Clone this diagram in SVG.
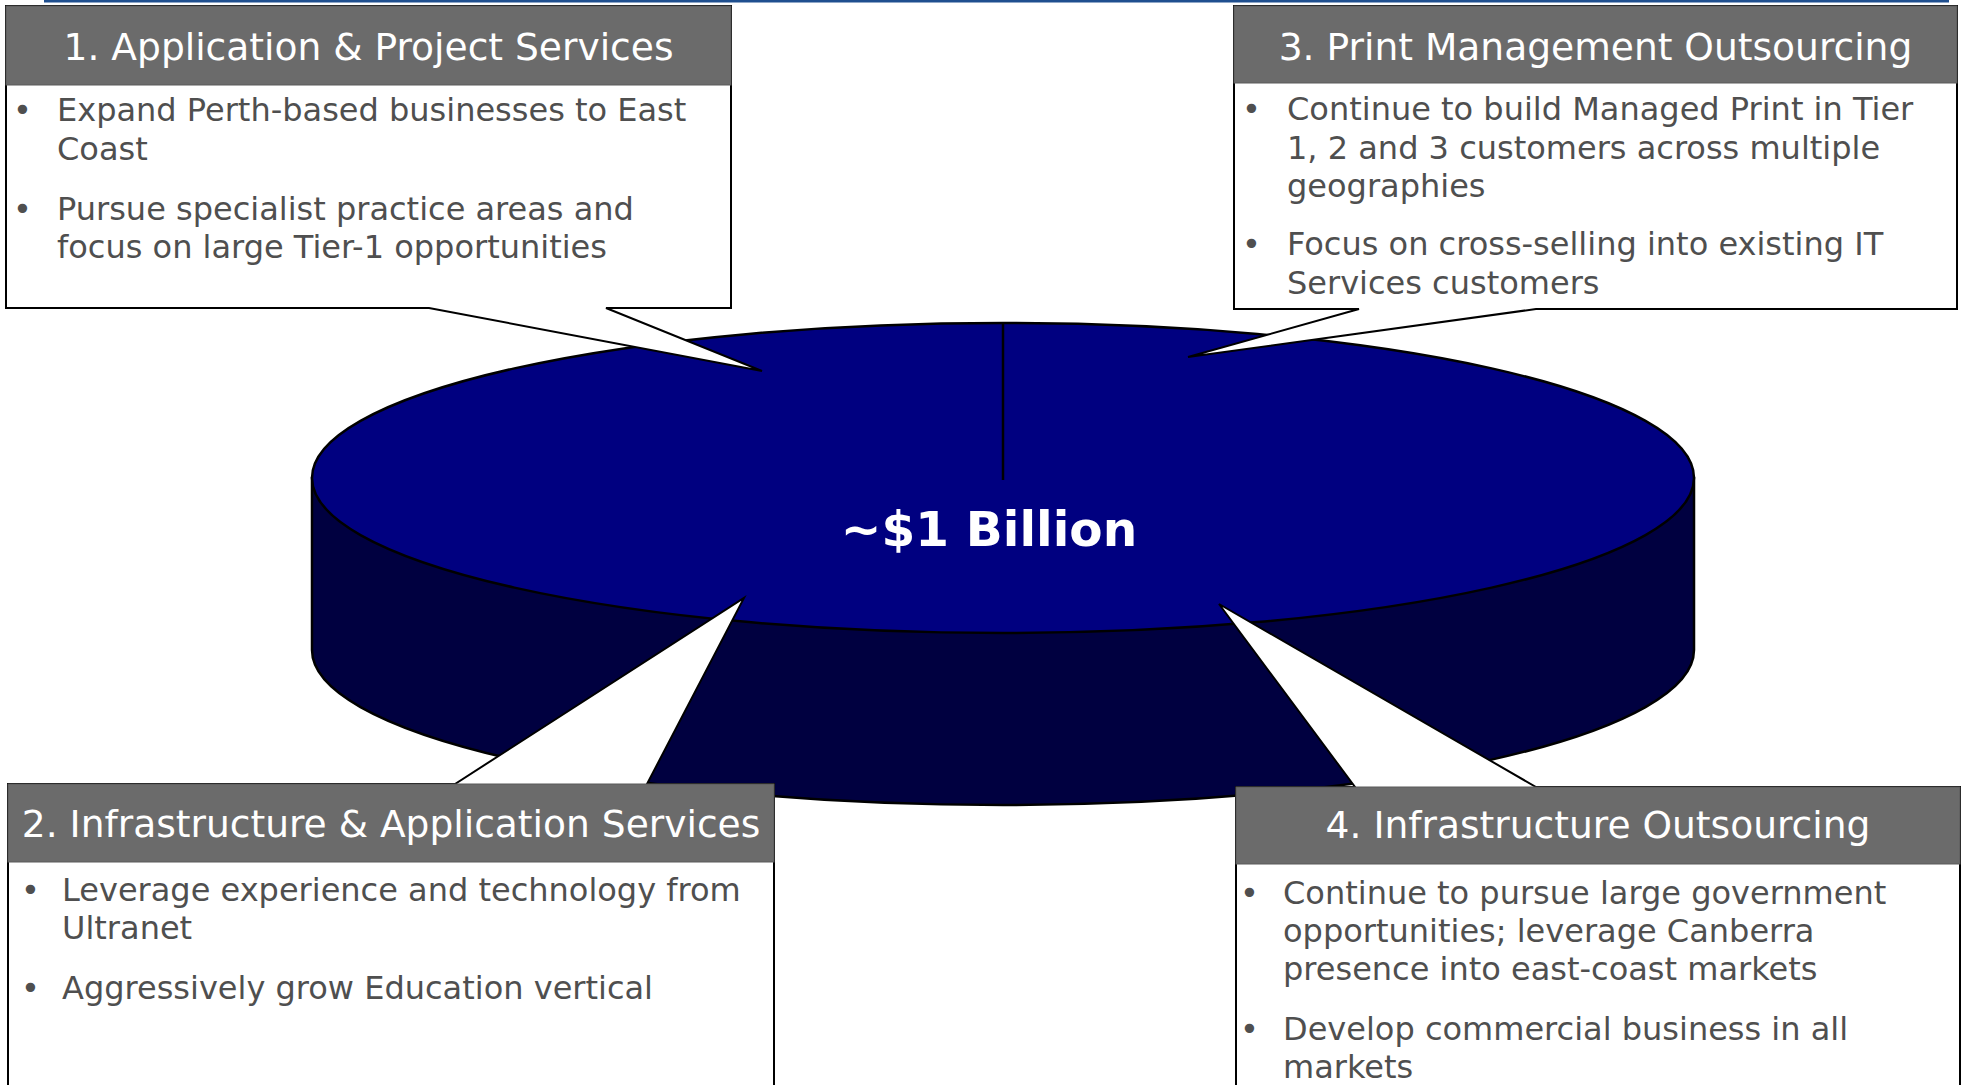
<svg xmlns="http://www.w3.org/2000/svg" width="1965" height="1085" viewBox="0 0 1965 1085">
<style>
.callout{fill:#fff;stroke:#000;stroke-width:2;stroke-linejoin:miter}
.hdr{fill:#6b6b6b;stroke:#5a5a5a;stroke-width:1}
.ht{font-family:"DejaVu Sans",Verdana,sans-serif;font-size:37.6px;fill:#fff;text-anchor:middle}
.bt{font-family:"DejaVu Sans",Verdana,sans-serif;font-size:32px;fill:#4f4f4f}
.pie-top{fill:#000080;stroke:#000;stroke-width:2.5}
.pie-side{fill:#000040;stroke:#000;stroke-width:2.5}
</style>
<rect width="1965" height="1085" fill="#fff"/>
<line x1="44" y1="1" x2="1949" y2="1" stroke="#1f4f8f" stroke-width="3"/>

<g id="pie">
<path class="pie-side" d="M312,478 L312,650 A691,155 0 0 0 1694,650 L1694,478 Z"/>
<ellipse class="pie-top" cx="1003" cy="478" rx="691" ry="155"/>
<line x1="1003" y1="323" x2="1003" y2="480" stroke="#000" stroke-width="2.5"/>
<text x="989" y="546" font-family="'DejaVu Sans',Verdana,sans-serif" font-size="48.5" font-weight="bold" fill="#fff" text-anchor="middle">~$1 Billion</text>
</g>

<g id="connectors"></g>

<g id="box1">
<path class="callout" d="M6,6 H731 V308 H606 L762,371 L429,308 H6 Z"/>
<rect class="hdr" x="6" y="6" width="725" height="79"/>
<text class="ht" x="368.5" y="60">1. Application &amp; Project Services</text>
<text class="bt"><tspan x="13" y="121">•</tspan><tspan x="57" y="121">Expand Perth-based businesses to East</tspan><tspan x="57" y="160">Coast</tspan><tspan x="13" y="220">•</tspan><tspan x="57" y="220">Pursue specialist practice areas and</tspan><tspan x="57" y="258">focus on large Tier-1 opportunities</tspan></text>
</g>

<g id="box3">
<path class="callout" d="M1234,6 H1957 V309 H1536 L1188,357 L1359,309 H1234 Z"/>
<rect class="hdr" x="1234" y="6" width="723" height="77"/>
<text class="ht" x="1595.5" y="60">3. Print Management Outsourcing</text>
<text class="bt"><tspan x="1242" y="120">•</tspan><tspan x="1287" y="120">Continue to build Managed Print in Tier</tspan><tspan x="1287" y="158.5">1, 2 and 3 customers across multiple</tspan><tspan x="1287" y="197">geographies</tspan><tspan x="1242" y="255">•</tspan><tspan x="1287" y="255">Focus on cross-selling into existing IT</tspan><tspan x="1287" y="294">Services customers</tspan></text>
</g>

<g id="box2">
<path class="callout" d="M8,784 H455 L744,598 L647,784 H774 V1100 H8 Z"/>
<rect class="hdr" x="8" y="784" width="766" height="78"/>
<text class="ht" x="391" y="837">2. Infrastructure &amp; Application Services</text>
<text class="bt"><tspan x="21" y="901">•</tspan><tspan x="62" y="901">Leverage experience and technology from</tspan><tspan x="62" y="939">Ultranet</tspan><tspan x="21" y="999">•</tspan><tspan x="62" y="999">Aggressively grow Education vertical</tspan></text>
</g>

<g id="box4">
<path class="callout" d="M1236,787 H1355 L1219,604 L1536,787 H1960 V1100 H1236 Z"/>
<rect class="hdr" x="1236" y="787" width="724" height="77"/>
<text class="ht" x="1598" y="838">4. Infrastructure Outsourcing</text>
<text class="bt"><tspan x="1240" y="904">•</tspan><tspan x="1283" y="904">Continue to pursue large government</tspan><tspan x="1283" y="942">opportunities; leverage Canberra</tspan><tspan x="1283" y="980">presence into east-coast markets</tspan><tspan x="1240" y="1040">•</tspan><tspan x="1283" y="1040">Develop commercial business in all</tspan><tspan x="1283" y="1078">markets</tspan></text>
</g>
</svg>
